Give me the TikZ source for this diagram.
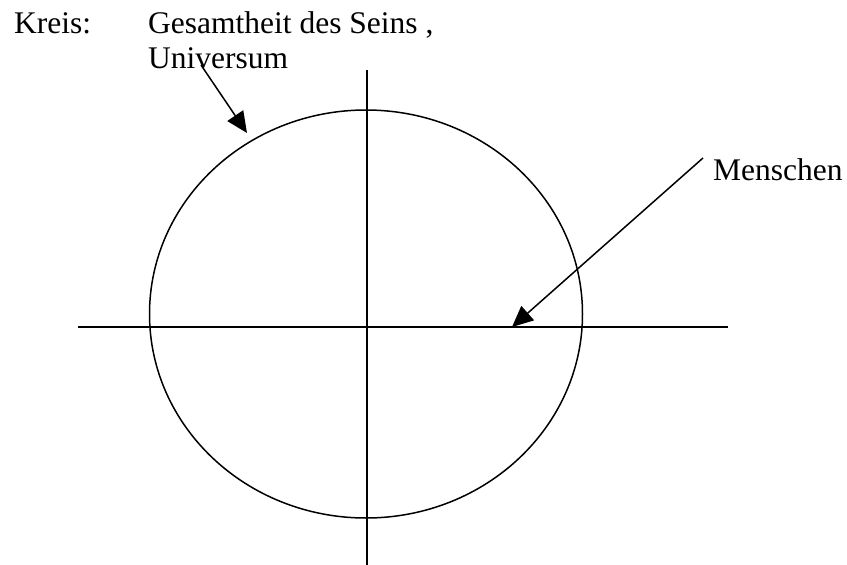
\documentclass[tikz,border=0pt]{standalone}
\usepackage{fontspec}
\setmainfont{Liberation Serif}
\usetikzlibrary{arrows.meta}
\begin{document}
\begin{tikzpicture}[x=1pt,y=-1pt,
  lbl/.style={inner sep=0pt,anchor=base west,font=\fontsize{31.5}{36}\selectfont},
  ln/.style={line width=1.5pt,black},
  arr/.style={ln,-{Triangle[length=21pt,width=19pt]}}]
\useasboundingbox (0,0) rectangle (847,565);
% axes and circle
\draw[ln] (366,314) ellipse [x radius=216.5, y radius=204];
\coordinate (vtop) at (367,70);
\coordinate (vbot) at (367,565);
\coordinate (hl) at (78,327);
\coordinate (hr) at (728,327);
\draw[ln] (vtop) -- (vbot);
\draw[ln] (hl) -- (hr);
% texts
\node[lbl] (kreis) at (14,33) {Kreis:};
\node[lbl] (ges) at (148,33) {Gesamtheit des Seins ,};
\node[lbl] (uni) at (148,68) {Universum};
\node[lbl] (men) at (713,180) {Menschen};
% arrows
\coordinate (a1s) at (201,65);
\coordinate (a1e) at (247,133);
\coordinate (a2s) at (703,158);
\coordinate (a2e) at (512,327);
\draw[arr] (a1s) -- (a1e);
\draw[arr] (a2s) -- (a2e);
\end{tikzpicture}
\end{document}
